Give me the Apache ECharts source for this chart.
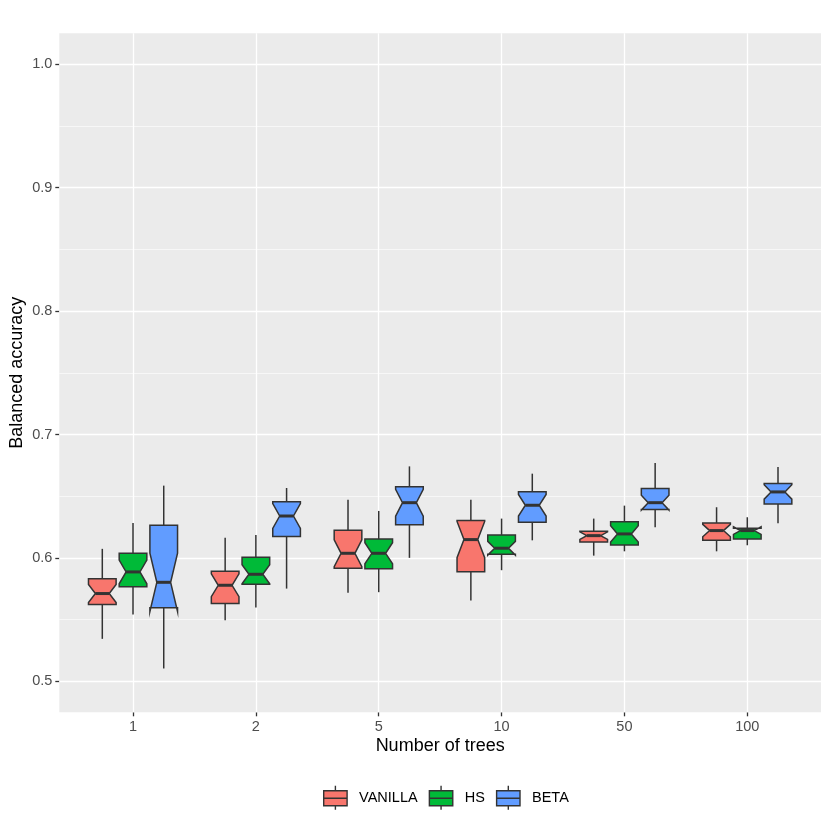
<!DOCTYPE html>
<html>
<head>
<meta charset="utf-8">
<script src="https://cdn.jsdelivr.net/npm/echarts@6/dist/echarts.min.js"></script>
<style>
	html, body { margin: 0; padding: 0; background: #fff; }
	#chart { width: 830px; height: 830px; }
</style>
</head>
<body>
<div id="chart"></div>
<script>
// categories on the x axis
var treeLabels = ['1', '2', '5', '10', '50', '100'];
// y ticks
var yMajor = [0.5, 0.6, 0.7, 0.8, 0.9, 1.0];
var yMinor = [0.55, 0.65, 0.75, 0.85, 0.95];
// box stats per category: [lower whisker, q1, median, q3, upper whisker]
var vanillaStats = [
	[0.5345, 0.5623, 0.5712, 0.5831, 0.6074],
	[0.5496, 0.5631, 0.5779, 0.5893, 0.6163],
	[0.5718, 0.5917, 0.6038, 0.6224, 0.6472],
	[0.5655, 0.5888, 0.6149, 0.6303, 0.6472],
	[0.6019, 0.6130, 0.6181, 0.6216, 0.6319],
	[0.6054, 0.6143, 0.6222, 0.6284, 0.6411]
];
var hsStats = [
	[0.5542, 0.5766, 0.5887, 0.6038, 0.6284],
	[0.5599, 0.5787, 0.5868, 0.6006, 0.6187],
	[0.5723, 0.5912, 0.6038, 0.6154, 0.6381],
	[0.5901, 0.6030, 0.6079, 0.6187, 0.6319],
	[0.6054, 0.6106, 0.6195, 0.6294, 0.6424],
	[0.6103, 0.6154, 0.6222, 0.6240, 0.6330]
];
var betaStats = [
	[0.5105, 0.5596, 0.5803, 0.6265, 0.6586],
	[0.5752, 0.6173, 0.6340, 0.6456, 0.6567],
	[0.6001, 0.6270, 0.6448, 0.6578, 0.6742],
	[0.6143, 0.6289, 0.6427, 0.6537, 0.6683],
	[0.6248, 0.6392, 0.6448, 0.6562, 0.6769],
	[0.6281, 0.6438, 0.6535, 0.6604, 0.6737]
];
var nObs = 20; // runs per box, used for the notch size

var boxWidth = 0.225;
var lineCol = '#333333';
var fontName = 'Liberation Sans';

function renderBox(offset) {
	return function(params, api) {
		var x = api.value(0) + offset;
		var lo = api.value(1), q1 = api.value(2), med = api.value(3), q3 = api.value(4), hi = api.value(5);
		var nd = 1.58 * (q3 - q1) / Math.sqrt(nObs);
		var halfW = api.size([boxWidth, 0])[0] / 2;
		var cx = api.coord([x, med])[0];
		var xl = cx - halfW, xr = cx + halfW, ind = halfW * 0.5;
		var y = function(v) { return api.coord([x, v])[1]; };
		var pts = [
			[xl, y(q3)], [xl, y(med + nd)], [xl + ind, y(med)], [xl, y(med - nd)], [xl, y(q1)],
			[xr, y(q1)], [xr, y(med - nd)], [xr - ind, y(med)], [xr, y(med + nd)], [xr, y(q3)]
		];
		var stroke = { stroke: lineCol, lineWidth: 1.5 };
		return {
			type: 'group',
			children: [{
				type: 'line',
				shape: { x1: cx, y1: y(q3), x2: cx, y2: y(hi) },
				style: stroke
			}, {
				type: 'line',
				shape: { x1: cx, y1: y(q1), x2: cx, y2: y(lo) },
				style: stroke
			}, {
				type: 'polygon',
				shape: { points: pts },
				style: { fill: api.visual('color'), stroke: lineCol, lineWidth: 1.5 }
			}, {
				type: 'line',
				shape: { x1: xl + ind, y1: y(med), x2: xr - ind, y2: y(med) },
				style: { stroke: lineCol, lineWidth: 3 }
			}]
		};
	};
}

function boxSeries(name, stats, color, offset) {
	return {
		name: name,
		type: 'custom',
		z: 5,
		itemStyle: { color: color },
		renderItem: renderBox(offset),
		encode: { x: 0, y: [1, 2, 3, 4, 5] },
		data: stats.map(function(s, i) { return [i + 1].concat(s); })
	};
}

var gridLines = [];
yMajor.forEach(function(v) {
	gridLines.push({ yAxis: v, lineStyle: { color: '#ffffff', width: 1.3, type: 'solid' } });
});
yMinor.forEach(function(v) {
	gridLines.push({ yAxis: v, lineStyle: { color: '#ffffff', width: 0.6, type: 'solid' } });
});
treeLabels.forEach(function(t, i) {
	gridLines.push({ xAxis: i + 1, lineStyle: { color: '#ffffff', width: 1.3, type: 'solid' } });
});

var legendIcon = 'path://M0,5H23.4V20H0ZM0,12.5H23.4M11.7,0V5M11.7,20V24';

var myChart = echarts.init(document.getElementById('chart'));
var option = {
	animation: false,
	textStyle: { fontFamily: fontName },
	grid: {
		left: 59.3,
		right: 9,
		top: 33.3,
		bottom: 117.7,
		outerBoundsMode: 'none',
		containLabel: false,
		show: true,
		backgroundColor: '#EBEBEB',
		borderWidth: 0
	},
	legend: {
		left: 323,
		top: 785,
		padding: 0,
		itemWidth: 23.4,
		itemHeight: 24,
		itemGap: 11,
		selectedMode: false,
		textStyle: { color: '#000000', fontSize: 14.5, fontFamily: fontName, padding: [0, 0, 0, 7] },
		itemStyle: { borderColor: lineCol, borderWidth: 1.4 },
		data: [
			{ name: 'VANILLA', icon: legendIcon },
			{ name: 'HS', icon: legendIcon },
			{ name: 'BETA', icon: legendIcon }
		]
	},
	xAxis: {
		type: 'value',
		min: 0.4,
		max: 6.6,
		name: 'Number of trees',
		nameLocation: 'middle',
		nameGap: 25,
		nameMoveOverlap: false,
		nameTextStyle: { color: '#000000', fontSize: 18, fontFamily: fontName },
		axisLine: { show: false },
		splitLine: { show: false },
		axisTick: {
			show: true,
			length: 4,
			customValues: [1, 2, 3, 4, 5, 6],
			lineStyle: { color: lineCol, width: 1.3 }
		},
		axisLabel: {
			customValues: [1, 2, 3, 4, 5, 6],
			margin: 7,
			color: '#4D4D4D',
			fontSize: 14.5,
			fontFamily: fontName,
			formatter: function(v) { return treeLabels[Math.round(v) - 1]; }
		}
	},
	yAxis: {
		type: 'value',
		min: 0.475,
		max: 1.025,
		name: 'Balanced accuracy',
		nameLocation: 'middle',
		nameGap: 33,
		nameMoveOverlap: false,
		nameTextStyle: { color: '#000000', fontSize: 18, fontFamily: fontName },
		axisLine: { show: false },
		splitLine: { show: false },
		axisTick: {
			show: true,
			length: 4,
			customValues: yMajor,
			lineStyle: { color: lineCol, width: 1.3 }
		},
		axisLabel: {
			customValues: yMajor,
			margin: 7,
			color: '#4D4D4D',
			fontSize: 14.5,
			fontFamily: fontName,
			formatter: function(v) { return v.toFixed(1); }
		}
	},
	series: [{
		type: 'line',
		data: [],
		z: 1,
		silent: true,
		markLine: {
			silent: true,
			z: 1,
			symbol: 'none',
			label: { show: false },
			data: gridLines
		}
	},
		boxSeries('VANILLA', vanillaStats, '#F8766D', -0.25),
		boxSeries('HS', hsStats, '#00BA38', 0),
		boxSeries('BETA', betaStats, '#619CFF', 0.25)
	]
};
myChart.setOption(option);
window.addEventListener('resize', function() {
	myChart.resize();
});
</script>
</body>
</html>
